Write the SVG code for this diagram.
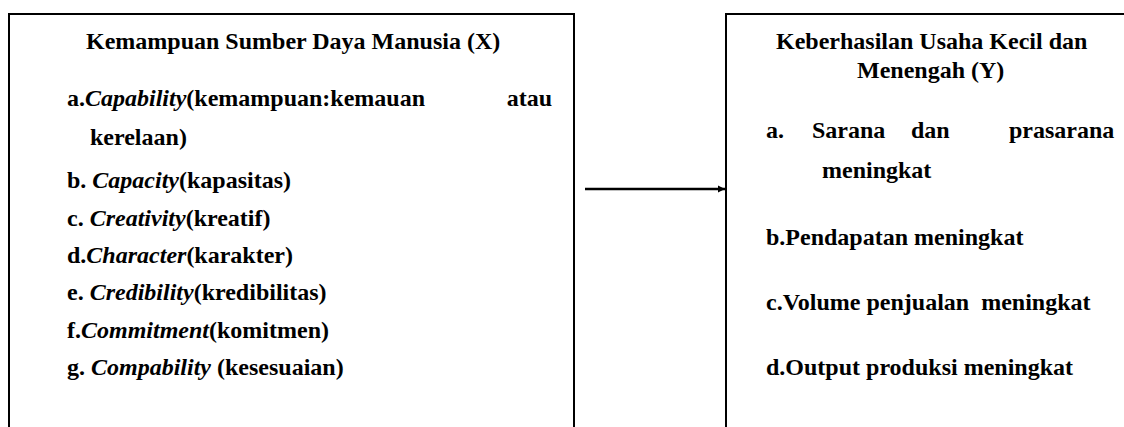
<svg xmlns="http://www.w3.org/2000/svg" width="1124" height="427" viewBox="0 0 1124 427">
<style>
  .box { fill: none; stroke: #000; stroke-width: 2; }
  .t { font-family: "Liberation Serif", "Times New Roman", "DejaVu Serif", serif; font-size: 24px; font-weight: bold; fill: #000; }
  .i { font-style: italic; }
  .conn { stroke: #000; stroke-width: 2.5; fill: none; }
</style>
<defs>
  <marker id="arrow" viewBox="0 0 10 10" refX="10" refY="5" markerWidth="3" markerHeight="6" markerUnits="strokeWidth" orient="auto">
    <path d="M0,0 L10,5 L0,10 Z" fill="#000"/>
  </marker>
</defs>
<rect width="1124" height="427" fill="#fff"/>

<g id="node-x">
  <path class="box" d="M9,427 V14 H574 V427"/>
  <text class="t" x="86" y="49">Kemampuan Sumber Daya Manusia (X)</text>
  <text class="t" x="67" y="106">a.<tspan class="i">Capability</tspan>(kemampuan:kemauan</text>
  <text class="t" x="552" y="106" text-anchor="end">atau</text>
  <text class="t" x="90" y="145">kerelaan)</text>
  <text class="t" x="67" y="188">b. <tspan class="i">Capacity</tspan>(kapasitas)</text>
  <text class="t" x="67" y="226">c. <tspan class="i">Creativity</tspan>(kreatif)</text>
  <text class="t" x="67" y="263">d.<tspan class="i">Character</tspan>(karakter)</text>
  <text class="t" x="67" y="300">e. <tspan class="i">Credibility</tspan>(kredibilitas)</text>
  <text class="t" x="67" y="338">f.<tspan class="i">Commitment</tspan>(komitmen)</text>
  <text class="t" x="67" y="375">g. <tspan class="i">Compability</tspan> (kesesuaian)</text>
</g>

<g id="node-y">
  <path class="box" d="M726,427 V14 H1124"/>
  <text class="t" x="776" y="49">Keberhasilan Usaha Kecil dan</text>
  <text class="t" x="857" y="78">Menengah (Y)</text>
  <text class="t" x="766" y="138">a.</text>
  <text class="t" x="812" y="138">Sarana</text>
  <text class="t" x="911" y="138">dan</text>
  <text class="t" x="1009" y="138">prasarana</text>
  <text class="t" x="822" y="178">meningkat</text>
  <text class="t" x="766" y="245">b.Pendapatan meningkat</text>
  <text class="t" x="766" y="310" xml:space="preserve">c.Volume penjualan  meningkat</text>
  <text class="t" x="766" y="375">d.Output produksi meningkat</text>
</g>

<g id="connectors">
  <line class="conn" x1="585" y1="189" x2="725" y2="189" marker-end="url(#arrow)"/>
</g>
</svg>
